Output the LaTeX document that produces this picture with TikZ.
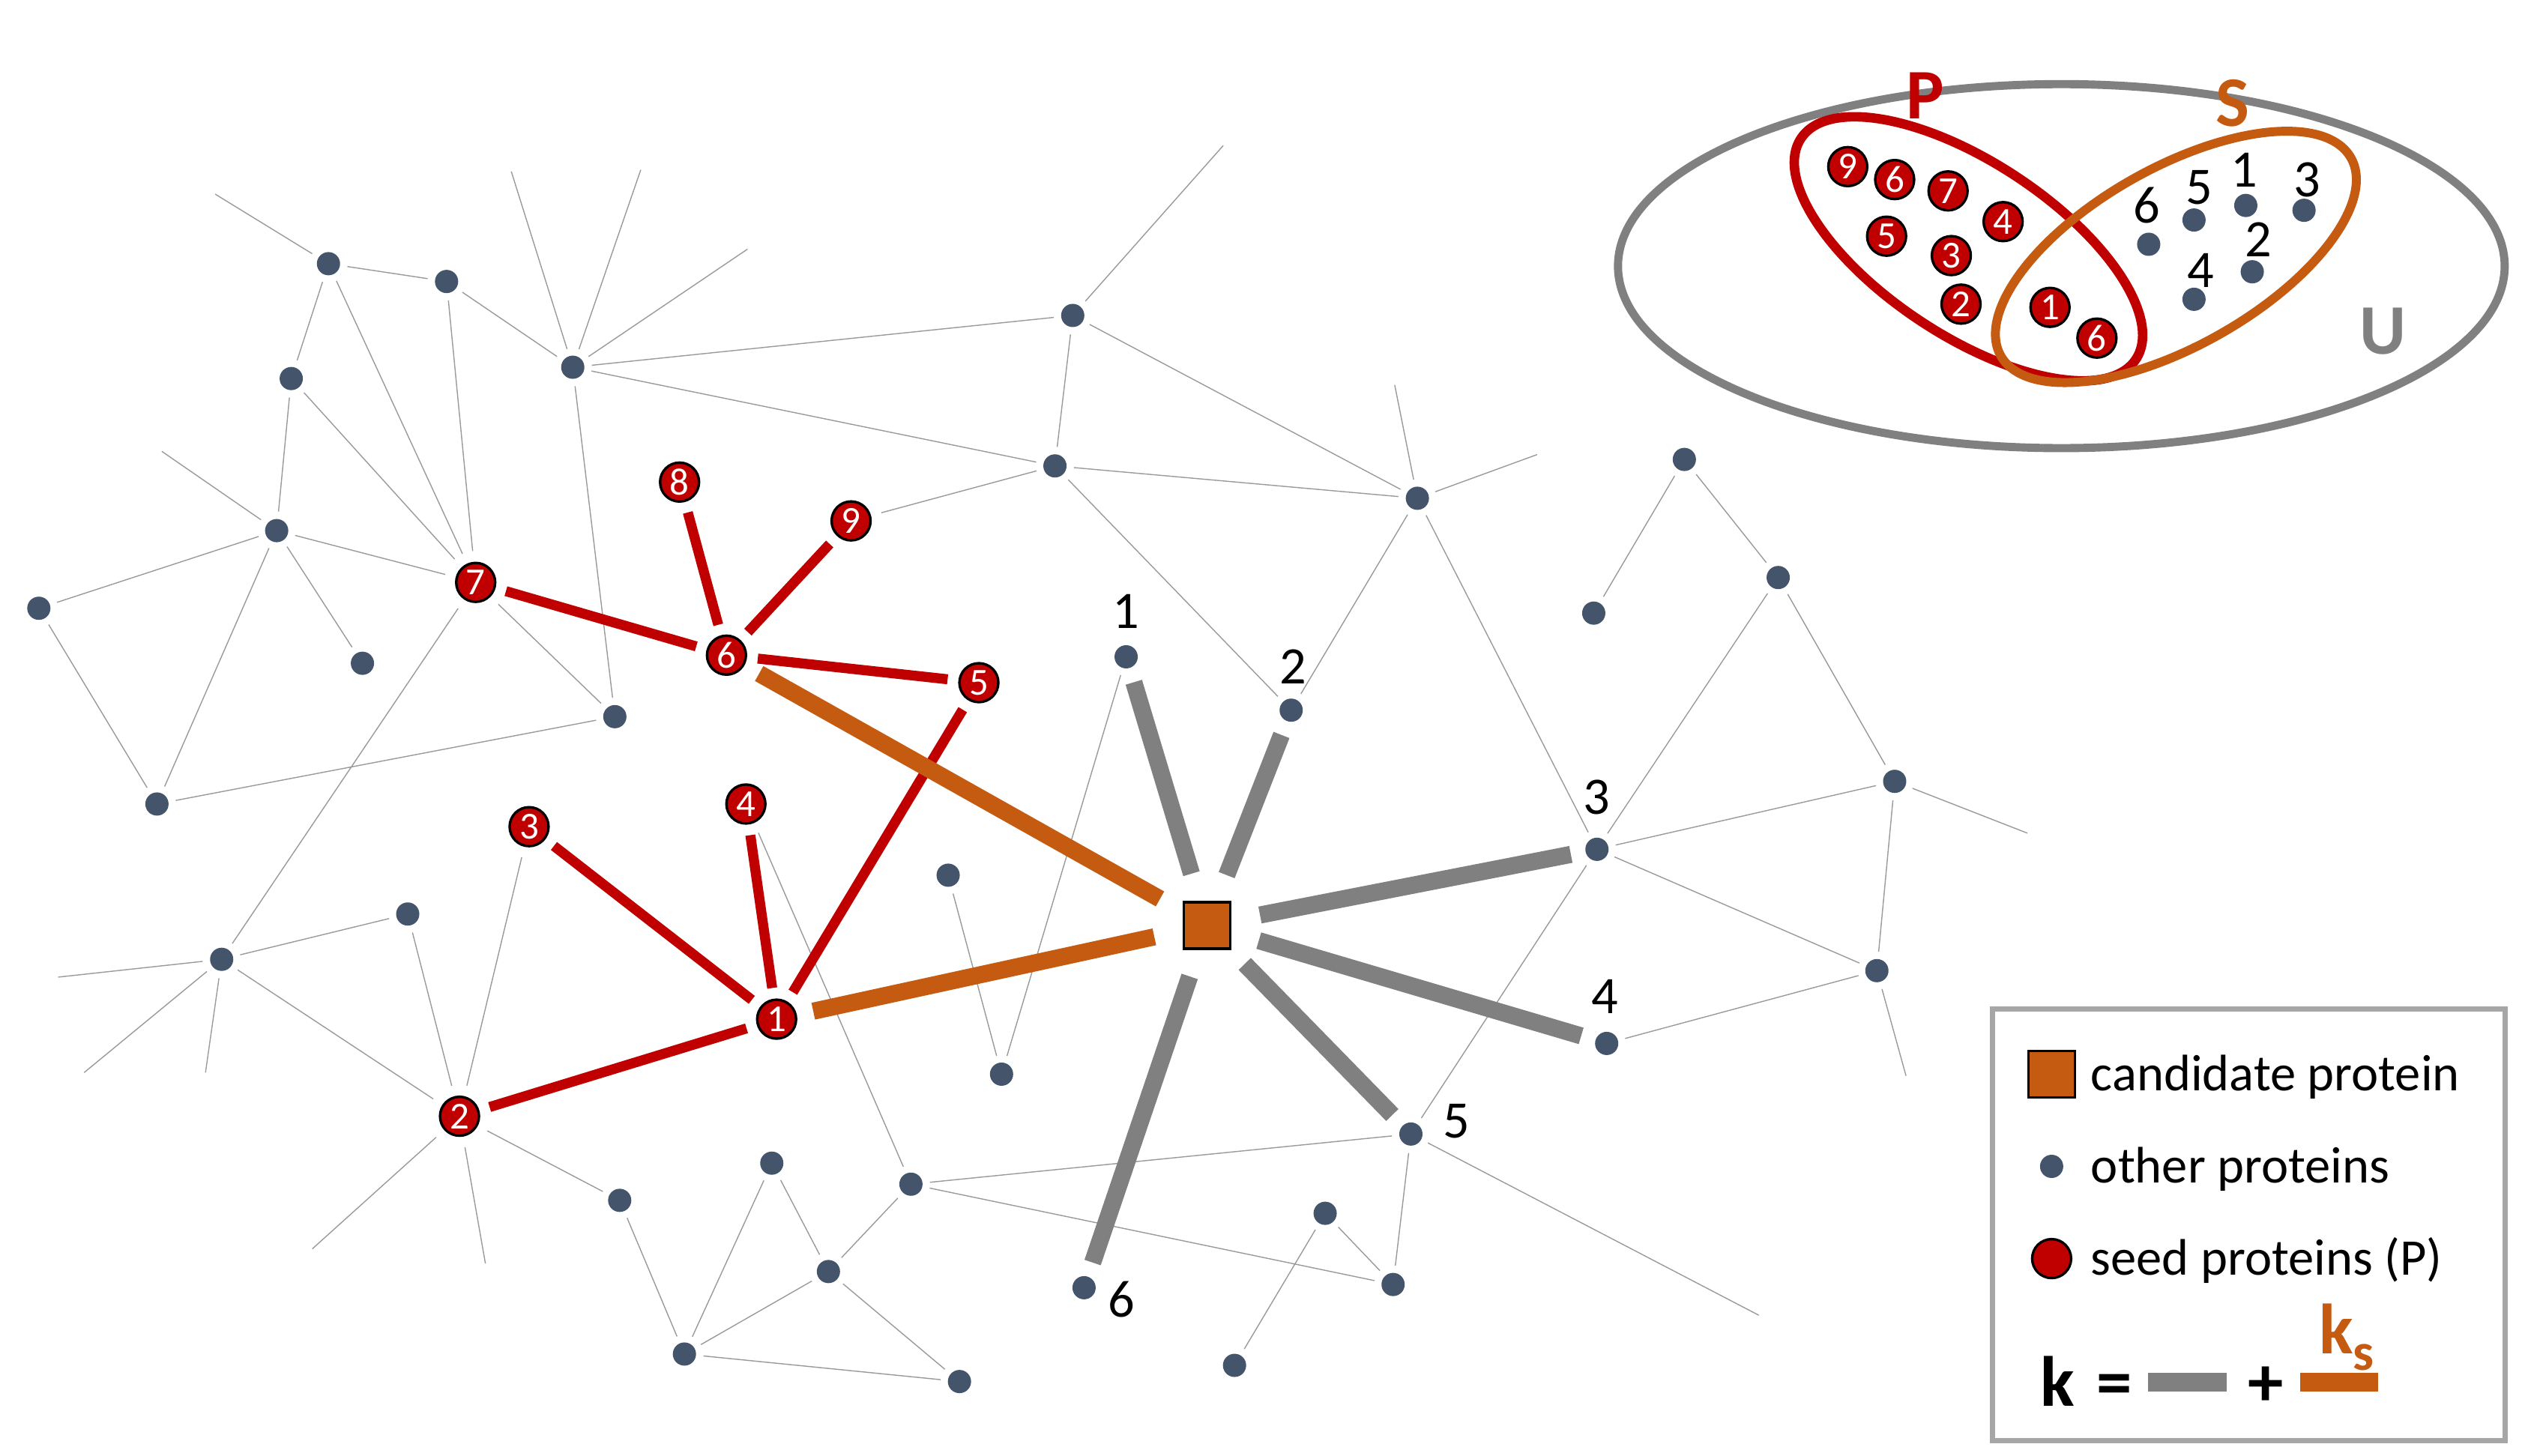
\documentclass[tikz,border=0pt]{standalone}
\usepackage{fontspec}
\setmainfont{Carlito}
\usepackage{xcolor}
\usepackage{tikz}

\definecolor{seedred}{HTML}{C00000}
\definecolor{candorange}{HTML}{C55A11}
\definecolor{kgray}{HTML}{808080}
\definecolor{protblue}{HTML}{44546A}
\definecolor{linkgray}{HTML}{9A9A9A}
\definecolor{framegray}{HTML}{A6A6A6}

\begin{document}
\begin{tikzpicture}[x=0.02159cm, y=-0.02159cm,
  prot/.style={circle, fill=protblue, inner sep=0pt, minimum size=0.31cm, outer sep=0.1cm},
  seed/.style={circle, fill=seedred, draw=black, line width=0.95pt, inner sep=0pt,
    minimum size=0.52cm, outer sep=0.16cm, text=white, font=\fontsize{14.5}{15}\selectfont},
  cand/.style={rectangle, fill=candorange, draw=black, line width=1pt, inner sep=0pt, minimum size=0.62cm},
  num/.style={inner sep=0pt, font=\fontsize{20}{22}\selectfont},
  legtext/.style={inner sep=0pt, anchor=base west, font=\fontsize{19.5}{23}\selectfont},
  kfont/.style={inner sep=0pt, font=\fontsize{27}{30}\selectfont\bfseries},
  link/.style={linkgray, line width=0.4pt},
  seedlink/.style={seedred, line width=3.8pt},
  candlink/.style={candorange, line width=6.5pt, shorten <=0.72cm, shorten >=0.08cm},
  klink/.style={kgray, line width=6.5pt, shorten <=0.72cm, shorten >=0.1cm}]
\useasboundingbox (0,0) rectangle (1568,900);

% Other proteins
\node[prot] (p1) at (203,163) {};
\node[prot] (p2) at (276,174) {};
\node[prot] (p3) at (354,227) {};
\node[prot] (p4) at (180,234) {};
\node[prot] (p5) at (171,328) {};
\node[prot] (p6) at (24,376) {};
\node[prot] (p7) at (224,410) {};
\node[prot] (p8) at (380,443) {};
\node[prot] (p9) at (97,497) {};
\node[prot] (p10) at (663,195) {};
\node[prot] (p11) at (652,288) {};
\node[prot] (p12) at (876,308) {};
\node[prot] (p13) at (1041,284) {};
\node[prot] (p14) at (985,379) {};
\node[prot] (p15) at (1099,357) {};
\node[prot] (p16) at (1171,483) {};
\node[prot] (p17) at (1160,600) {};
\node[prot] (p18) at (137,593) {};
\node[prot] (p19) at (252,565) {};
\node[prot] (p20) at (586,541) {};
\node[prot] (p21) at (619,664) {};
\node[prot] (p22) at (477,719) {};
\node[prot] (p23) at (383,742) {};
\node[prot] (p24) at (563,732) {};
\node[prot] (p25) at (512,786) {};
\node[prot] (p26) at (423,837) {};
\node[prot] (p27) at (593,854) {};
\node[prot] (p28) at (819,750) {};
\node[prot] (p29) at (861,794) {};
\node[prot] (p30) at (763,844) {};

% Neighbours of the candidate
\node[prot] (k1) at (696,406) {};
\node[prot] (k2) at (798,439) {};
\node[prot] (k3) at (987,525) {};
\node[prot] (k4) at (993,645) {};
\node[prot] (k5) at (872,701) {};
\node[prot] (k6) at (670,796) {};
\node[num] (kl1) at (696,378) {1};
\node[num] (kl2) at (799,412) {2};
\node[num] (kl3) at (987,493) {3};
\node[num] (kl4) at (992,616) {4};
\node[num] (kl5) at (900,693) {5};
\node[num] (kl6) at (693,803) {6};

% Seed proteins
\node[seed] (s1) at (480,630) {1};
\node[seed] (s2) at (284,690) {2};
\node[seed] (s3) at (327,511) {3};
\node[seed] (s4) at (461,497) {4};
\node[seed] (s5) at (605,422) {5};
\node[seed] (s6) at (449,405) {6};
\node[seed] (s7) at (294,360) {7};
\node[seed] (s8) at (420,298) {8};
\node[seed] (s9) at (526,322) {9};

% Candidate protein
\node[cand] (c) at (746,572) {};

% Loose ends
\coordinate (e1) at (133,120);
\coordinate (e2) at (100,279);
\coordinate (e3) at (316,106);
\coordinate (e4) at (396,105);
\coordinate (e5) at (462,154);
\coordinate (e6) at (756,90);
\coordinate (e7) at (862,238);
\coordinate (e8) at (950,281);
\coordinate (e9) at (1253,515);
\coordinate (e10) at (1178,665);
\coordinate (e11) at (1087,813);
\coordinate (e12) at (36,604);
\coordinate (e13) at (52,663);
\coordinate (e14) at (127,663);
\coordinate (e15) at (193,772);
\coordinate (e16) at (300,781);

% Interactions
\draw[link] (p1)--(p2) (p1)--(p4) (p1)--(s7) (p1)--(e1)
  (p2)--(s7) (p2)--(p3)
  (p3)--(p8) (p3)--(p10) (p3)--(p11) (p3)--(e3) (p3)--(e4) (p3)--(e5)
  (p4)--(p5) (p4)--(s7)
  (p5)--(p6) (p5)--(p7) (p5)--(p9) (p5)--(s7) (p5)--(e2)
  (p6)--(p9) (p9)--(p8) (s7)--(p8) (s7)--(p18)
  (p10)--(p11) (p10)--(p12) (p10)--(e6)
  (p11)--(p12) (p11)--(s9) (p11)--(k2)
  (p12)--(k2) (p12)--(k3) (p12)--(e7) (p12)--(e8)
  (p13)--(p14) (p13)--(p15)
  (p15)--(k3) (p15)--(p16)
  (p16)--(k3) (p16)--(p17) (p16)--(e9)
  (p17)--(k3) (p17)--(k4) (p17)--(e10)
  (k3)--(k5) (k5)--(p29) (k5)--(p24) (k5)--(e11)
  (p28)--(p29) (p28)--(p30)
  (p24)--(p29) (p24)--(s4) (p24)--(p25)
  (k1)--(p21) (p20)--(p21)
  (p18)--(p19) (p18)--(s2) (p18)--(e12) (p18)--(e13) (p18)--(e14)
  (p19)--(s2) (s3)--(s2)
  (s2)--(p23) (s2)--(e15) (s2)--(e16)
  (p23)--(p26) (p22)--(p26) (p22)--(p25)
  (p25)--(p26) (p25)--(p27) (p26)--(p27);

% Seed links
\draw[seedlink] (s7)--(s6) (s8)--(s6) (s9)--(s6) (s6)--(s5)
  (s5)--(s1) (s4)--(s1) (s3)--(s1) (s2)--(s1);

% Links of the candidate
\draw[candlink] (c.center)--(s6);
\draw[candlink] (c.center)--(s1);
\draw[klink] (c.center)--(k1);
\draw[klink] (c.center)--(k2);
\draw[klink] (c.center)--(k3);
\draw[klink] (c.center)--(k4);
\draw[klink] (c.center)--(k5);
\draw[klink] (c.center)--(k6);

% Sets U, P and S
\draw[kgray, line width=3.1pt] (1274,164.5) ellipse [x radius=5.916cm, y radius=2.429cm];
\draw[seedred, line width=3.6pt, rotate around={-33.4:(1216.6,153.8)}]
  (1216.6,153.8) ellipse [x radius=2.677cm, y radius=1.157cm];
\draw[candorange, line width=3.4pt, rotate around={29.5:(1344.8,158.8)}]
  (1344.8,158.8) ellipse [x radius=2.684cm, y radius=1.187cm];
\node[kfont, text=seedred] (setP) at (1190,59) {P};
\node[kfont, text=candorange] (setS) at (1380,64) {S};
\node[kfont, text=kgray] (setU) at (1473,205) {U};

\node[seed] (q9) at (1142,103) {9};
\node[seed] (q6) at (1171,111) {6};
\node[seed] (q7) at (1204,118) {7};
\node[seed] (q4) at (1238,137) {4};
\node[seed] (q5) at (1166,146) {5};
\node[seed] (q3) at (1206,158) {3};
\node[seed] (q2) at (1212,188) {2};
\node[seed] (q1) at (1267,190) {1};
\node[seed] (q6b) at (1296,209) {6};

\node[prot] (t6) at (1328,151) {};
\node[prot] (t5) at (1356,136) {};
\node[prot] (t1) at (1388,127) {};
\node[prot] (t3) at (1424,130) {};
\node[prot] (t2) at (1392,168) {};
\node[prot] (t4) at (1356,185) {};
\node[num] (tl6) at (1327,127) {6};
\node[num] (tl5) at (1359,116) {5};
\node[num] (tl1) at (1387,105) {1};
\node[num] (tl3) at (1426,111) {3};
\node[num] (tl2) at (1396,148) {2};
\node[num] (tl4) at (1360,167) {4};

% Legend
\draw[framegray, line width=2pt] (1231.6,623.6) rectangle (1548.4,890.4);
\node[cand] (legcand) at (1268,664) {};
\node[legtext] (legcandtxt) at (1292,674) {candidate protein};
\node[prot] (legprot) at (1268,721) {};
\node[legtext] (legprottxt) at (1292,731) {other proteins};
\node[seed] (legseed) at (1268,778) {};
\node[legtext] (legseedtxt) at (1292,788) {seed proteins (P)};
\node[kfont, anchor=base west] (kk) at (1261,869) {k};
\node[kfont, anchor=base] (keq) at (1307,869) {=};
\fill[kgray] (1327.5,848.5) rectangle (1376,860);
\node[kfont, anchor=base] (kplus) at (1400.5,869) {+};
\fill[candorange] (1421.4,848.5) rectangle (1470,860);
\node[kfont, anchor=base west, text=candorange] (ks) at (1433,836.6)
  {k\raisebox{-6.5pt}{\fontsize{20}{20}\selectfont s}};
\end{tikzpicture}
\end{document}
